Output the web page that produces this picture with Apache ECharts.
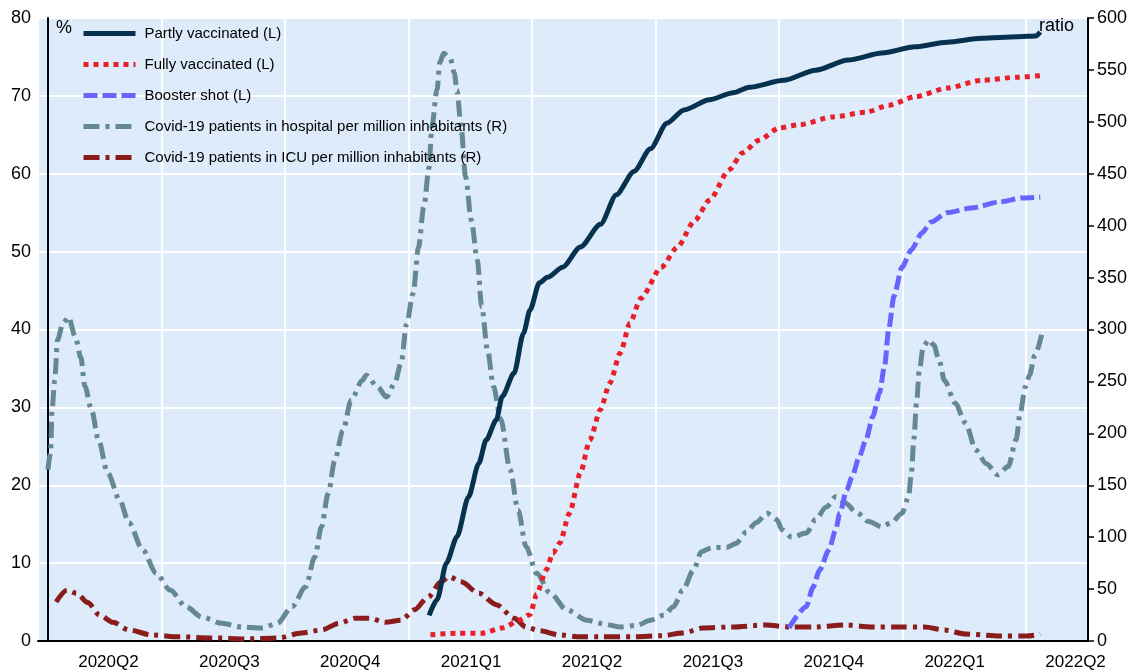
<!DOCTYPE html>
<html><head><meta charset="utf-8">
<script src="https://cdn.jsdelivr.net/npm/echarts@6/dist/echarts.min.js"></script>
<style>html,body{margin:0;padding:0;background:#fff}#c{width:1136px;height:672px}</style>
</head><body><div id="c"></div>
<script>
const quarterLabels = ['2020Q2','2020Q3','2020Q4','2021Q1','2021Q2','2021Q3','2021Q4','2022Q1','2022Q2'];

const partlyDates = ['2021-01-09','2021-01-15','2021-01-22','2021-01-30','2021-02-07','2021-02-14','2021-02-19','2021-02-26','2021-03-02','2021-03-11','2021-03-18','2021-03-23','2021-03-30','2021-04-05','2021-04-16','2021-04-29','2021-05-14','2021-05-26','2021-06-08','2021-06-20','2021-07-02','2021-07-15','2021-08-03','2021-08-21','2021-09-02','2021-09-27','2021-10-21','2021-11-14','2021-12-09','2022-01-03','2022-01-27','2022-02-20','2022-03-18','2022-04-01','2022-04-04'];
const partlyValues = [3.3,5.3,10,13.4,18.5,22.8,25.8,28.4,31.4,34.4,39.5,42.5,46,46.7,48,50.6,53.5,57.3,60.3,63.2,66.5,68.2,69.5,70.4,71.1,72,73.3,74.6,75.5,76.3,76.9,77.4,77.6,77.7,78.2];

const fullyDates = ['2021-01-10','2021-01-30','2021-02-16','2021-03-03','2021-03-15','2021-03-23','2021-03-28','2021-04-04','2021-04-09','2021-04-14','2021-04-21','2021-04-29','2021-05-06','2021-05-14','2021-05-21','2021-05-29','2021-06-05','2021-06-13','2021-06-28','2021-07-10','2021-07-23','2021-08-03','2021-08-18','2021-08-28','2021-09-09','2021-09-24','2021-10-09','2021-11-03','2021-11-27','2021-12-14','2022-01-03','2022-01-27','2022-02-20','2022-03-18','2022-04-04'];
const fullyValues = [0.8,1,1,1.7,2.7,3.4,6.0,9.1,11.3,12.6,16.4,21.6,25.8,29.7,33.1,37,40.8,44,48,50.6,54,56.6,60.5,62.7,64.3,65.9,66.3,67.3,67.9,68.8,69.9,71,72,72.4,72.6];

const boosterDates = ['2021-10-01','2021-10-14','2021-10-19','2021-10-24','2021-10-31','2021-11-05','2021-11-08','2021-11-13','2021-11-17','2021-11-22','2021-11-27','2021-12-02','2021-12-07','2021-12-11','2021-12-14','2021-12-18','2021-12-24','2021-12-31','2022-01-08','2022-01-15','2022-01-27','2022-02-13','2022-03-05','2022-03-22','2022-04-04'];
const boosterValues = [1.7,4.4,6.9,9.1,11.7,14.3,16.4,19.4,21.1,23.6,25.8,28.8,31.8,35.4,40,44.3,48,50.2,52.4,53.8,55,55.6,56.4,56.9,57];

const hospitalDates = ['2020-04-01','2020-04-03','2020-04-04','2020-04-06','2020-04-08','2020-04-12','2020-04-16','2020-04-21','2020-04-25','2020-04-28','2020-05-03','2020-05-08','2020-05-15','2020-05-24','2020-05-31','2020-06-10','2020-06-20','2020-06-30','2020-07-12','2020-07-24','2020-08-08','2020-08-23','2020-09-07','2020-09-18','2020-09-29','2020-10-09','2020-10-16','2020-10-21','2020-10-26','2020-10-31','2020-11-06','2020-11-12','2020-11-20','2020-11-23','2020-12-01','2020-12-08','2020-12-14','2020-12-19','2020-12-23','2020-12-28','2021-01-01','2021-01-05','2021-01-09','2021-01-11','2021-01-15','2021-01-17','2021-01-20','2021-01-25','2021-01-28','2021-01-30','2021-02-02','2021-02-05','2021-02-09','2021-02-13','2021-02-16','2021-02-20','2021-02-24','2021-03-01','2021-03-08','2021-03-14','2021-03-20','2021-03-28','2021-04-07','2021-04-19','2021-05-04','2021-05-14','2021-05-29','2021-06-10','2021-06-20','2021-06-30','2021-07-07','2021-07-14','2021-07-22','2021-07-28','2021-08-05','2021-08-16','2021-08-23','2021-08-31','2021-09-07','2021-09-15','2021-09-22','2021-09-26','2021-10-03','2021-10-14','2021-10-21','2021-10-29','2021-11-05','2021-11-12','2021-11-20','2021-11-29','2021-12-09','2021-12-16','2021-12-24','2021-12-29','2021-12-31','2022-01-02','2022-01-04','2022-01-06','2022-01-09','2022-01-13','2022-01-17','2022-01-21','2022-01-25','2022-02-02','2022-02-09','2022-02-16','2022-02-23','2022-03-03','2022-03-11','2022-03-17','2022-03-20','2022-03-24','2022-03-27','2022-03-31','2022-04-05'];
const hospitalValues = [165,181,222,251,290,306,312,293,273,245,222,194,162,136,114,88,65,49,33,23,17,13.5,12.5,17,33,52,81,110,142,174,203,232,251,256,245,235,248,268,305,335,379,418,456,495,531,557,566,561,547,530,495,447,405,367,322,280,245,213,165,126,91,65,46,30,20,17,13.5,15,20,25,33,49,68,86,90,90,94,105,114,123,117,107,100,104,117,129,139,133,124,115,110,114,123,139,160,195,230,260,283,290,285,270,251,229,210,184,171,160,168,194,220,245,256,275,295];

const icuDates = ['2020-04-07','2020-04-15','2020-04-22','2020-04-30','2020-05-09','2020-05-19','2020-05-31','2020-06-17','2020-07-07','2020-08-01','2020-08-26','2020-09-19','2020-10-06','2020-10-21','2020-11-03','2020-11-15','2020-11-25','2020-12-07','2020-12-19','2020-12-29','2021-01-08','2021-01-18','2021-01-24','2021-02-02','2021-02-14','2021-02-26','2021-03-11','2021-03-20','2021-03-30','2021-04-14','2021-04-29','2021-05-14','2021-06-08','2021-06-28','2021-07-14','2021-07-29','2021-08-20','2021-09-14','2021-10-01','2021-10-21','2021-11-12','2021-12-01','2021-12-21','2022-01-10','2022-01-25','2022-02-09','2022-03-05','2022-03-25','2022-04-04'];
const icuValues = [37.6,49,46,37,25,18,10.6,5.8,4,3,2,3,7.7,10.6,17,22,22,18,20,30,42,57,62,57,46,35,22,13.5,10,5.8,4,4,4,5,7.7,12.5,13.5,15.4,13.5,13.5,15.4,13.5,13.5,13.5,10.6,6.7,4.8,4.8,6.7];

function toQ(s) {
  const p = s.split('-').map(Number);
  const dim = new Date(p[0], p[1], 0).getDate();
  return ((p[0] - 2020) * 12 + (p[1] - 4) + (p[2] - 1) / dim) / 3;
}
function pairs(dates, vals) { return dates.map((d, i) => [toQ(d), vals[i]]); }

const FONT = 'Liberation Sans, Arial, sans-serif';
const chart = echarts.init(document.getElementById('c'), null, {renderer: 'canvas'});

function line(name, dates, vals, yIdx, color, width, type, smooth) {
  return {
    name, type: 'line', xAxisIndex: 0, yAxisIndex: yIdx,
    data: pairs(dates, vals), showSymbol: false, symbol: 'none',
    smooth: smooth, smoothMonotone: 'x',
    lineStyle: {color, width, type, cap: 'butt', join: 'round'},
    itemStyle: {color}, animation: false
  };
}

chart.setOption({
  animation: false,
  textStyle: {fontFamily: FONT},
  grid: [
    {left: 38, right: 48, top: 18, bottom: 31, show: true, backgroundColor: '#DEEBFA', borderWidth: 0},
    {left: 48, width: 1111.5, top: 18, bottom: 31, show: false}
  ],
  legend: {
    orient: 'vertical', left: 81, top: 26, padding: 0, itemWidth: 52, itemHeight: 14, itemGap: 16,
    itemStyle: {opacity: 0},
    lineStyle: {width: 5},
    textStyle: {fontFamily: FONT, fontSize: 15, color: '#000', padding: [0, 0, 0, 4]},
    data: ['Partly vaccinated (L)', 'Fully vaccinated (L)', 'Booster shot (L)',
      'Covid-19 patients in hospital per million inhabitants (R)',
      'Covid-19 patients in ICU per million inhabitants (R)']
  },
  xAxis: [
    {type: 'value', gridIndex: 0, min: -0.08, max: 8.42, interval: 1,
      axisLine: {show: true, onZero: false, lineStyle: {color: '#000', width: 2}},
      axisTick: {show: false}, axisLabel: {show: false},
      splitLine: {show: true, lineStyle: {color: '#fff', width: 2}}},
    {type: 'category', gridIndex: 1, data: quarterLabels, boundaryGap: true,
      axisLine: {show: false}, axisTick: {show: false}, splitLine: {show: false},
      axisLabel: {fontFamily: FONT, fontSize: 17, color: '#000', margin: 13, interval: 0}}
  ],
  yAxis: [
    {type: 'value', gridIndex: 0, position: 'left', min: 0, max: 80, interval: 10,
      name: '%', nameLocation: 'end', nameGap: -1,
      nameTextStyle: {fontFamily: FONT, fontSize: 18, color: '#000', align: 'left', verticalAlign: 'top', padding: [0, 0, 0, 8]},
      axisLine: {show: true, lineStyle: {color: '#000', width: 2}},
      axisTick: {show: false},
      axisLabel: {fontFamily: FONT, fontSize: 18, color: '#000', margin: 7},
      splitLine: {show: true, lineStyle: {color: '#fff', width: 2}}},
    {type: 'value', gridIndex: 0, position: 'right', min: 0, max: 600, interval: 50,
      name: 'ratio', nameLocation: 'end', nameGap: 1,
      nameTextStyle: {fontFamily: FONT, fontSize: 18, color: '#000', align: 'right', verticalAlign: 'top', padding: [0, 14, 0, 0]},
      axisLine: {show: true, lineStyle: {color: '#000', width: 2}},
      axisTick: {show: true, inside: false, length: 6, lineStyle: {color: '#000', width: 1.5}},
      axisLabel: {fontFamily: FONT, fontSize: 18, color: '#000', margin: 9},
      splitLine: {show: false}},
    {type: 'value', gridIndex: 1, show: false}
  ],
  series: [
    line('Covid-19 patients in hospital per million inhabitants (R)', hospitalDates, hospitalValues, 1, '#658895', 5, [16, 6, 4, 6], 0.3),
    line('Covid-19 patients in ICU per million inhabitants (R)', icuDates, icuValues, 1, '#8B1C1C', 5, [16, 6, 4, 6], 0.3),
    line('Booster shot (L)', boosterDates, boosterValues, 0, '#6666FF', 5, [14, 5], 0.25),
    line('Fully vaccinated (L)', fullyDates, fullyValues, 0, '#E8202A', 5, [5, 5], 0.25),
    line('Partly vaccinated (L)', partlyDates, partlyValues, 0, '#07324F', 5, 'solid', 0.25)
  ]
});
</script></body></html>
